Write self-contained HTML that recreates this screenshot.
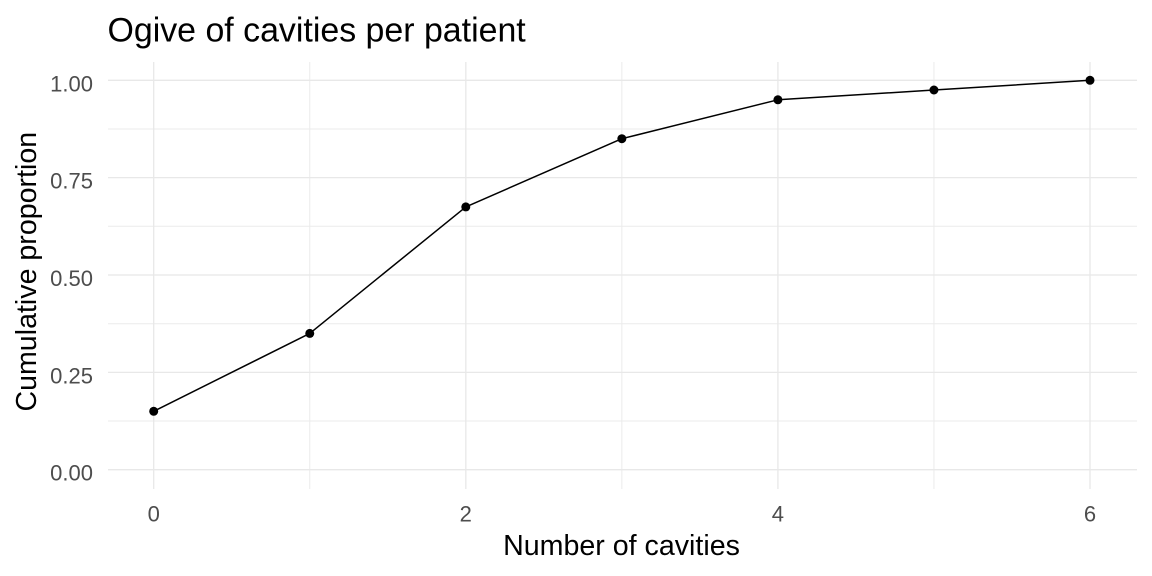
<!DOCTYPE html>
<html>
<head>
<meta charset="utf-8">
<style>
html,body{margin:0;padding:0;background:#fff;}
svg{display:block;}
text{font-family:"Liberation Sans",Arial,sans-serif;}
</style>
</head>
<body>
<svg width="1152" height="576" viewBox="0 0 1152 576" xmlns="http://www.w3.org/2000/svg">
<rect width="1152" height="576" fill="#fff"/>
<!-- minor gridlines -->
<g stroke="#EBEBEB" stroke-width="1">
<line x1="108" x2="1137" y1="421.0" y2="421.0"/>
<line x1="108" x2="1137" y1="323.7" y2="323.7"/>
<line x1="108" x2="1137" y1="226.3" y2="226.3"/>
<line x1="108" x2="1137" y1="129.0" y2="129.0"/>
<line x1="309.75" x2="309.75" y1="62" y2="489"/>
<line x1="621.85" x2="621.85" y1="62" y2="489"/>
<line x1="933.95" x2="933.95" y1="62" y2="489"/>
</g>
<!-- major gridlines -->
<g stroke="#E8E8E8" stroke-width="1.3">
<line x1="108" x2="1137" y1="469.7" y2="469.7"/>
<line x1="108" x2="1137" y1="372.35" y2="372.35"/>
<line x1="108" x2="1137" y1="275.0" y2="275.0"/>
<line x1="108" x2="1137" y1="177.65" y2="177.65"/>
<line x1="108" x2="1137" y1="80.3" y2="80.3"/>
<line x1="153.7" x2="153.7" y1="62" y2="489"/>
<line x1="465.8" x2="465.8" y1="62" y2="489"/>
<line x1="777.9" x2="777.9" y1="62" y2="489"/>
<line x1="1090" x2="1090" y1="62" y2="489"/>
</g>
<!-- series -->
<polyline fill="none" stroke="#000" stroke-width="1.5" stroke-linejoin="round"
 points="153.7,411.3 309.75,333.4 465.8,206.9 621.85,138.7 777.9,99.8 933.95,90.0 1090,80.3"/>
<g fill="#000">
<circle cx="153.7" cy="411.3" r="4.5"/>
<circle cx="309.75" cy="333.4" r="4.5"/>
<circle cx="465.8" cy="206.9" r="4.5"/>
<circle cx="621.85" cy="138.7" r="4.5"/>
<circle cx="777.9" cy="99.8" r="4.5"/>
<circle cx="933.95" cy="90.0" r="4.5"/>
<circle cx="1090" cy="80.3" r="4.5"/>
</g>
<!-- y tick labels -->
<g fill="#4D4D4D" font-size="22" text-anchor="end">
<text x="93" y="480.7">0.00</text>
<text x="93" y="383.35">0.25</text>
<text x="93" y="286.0">0.50</text>
<text x="93" y="188.65">0.75</text>
<text x="93" y="91.3">1.00</text>
</g>
<!-- x tick labels -->
<g fill="#4D4D4D" font-size="22" text-anchor="middle">
<text x="153.7" y="521.5">0</text>
<text x="465.8" y="521.5">2</text>
<text x="777.9" y="521.5">4</text>
<text x="1090" y="521.5">6</text>
</g>
<!-- axis titles -->
<text x="621.5" y="555" font-size="28.6" text-anchor="middle" fill="#000">Number of cavities</text>
<text transform="translate(36,271.7) rotate(-90)" font-size="28.6" text-anchor="middle" fill="#000">Cumulative proportion</text>
<!-- title -->
<text x="107.5" y="41.5" font-size="33.9" fill="#000">Ogive of cavities per patient</text>
</svg>
</body>
</html>
